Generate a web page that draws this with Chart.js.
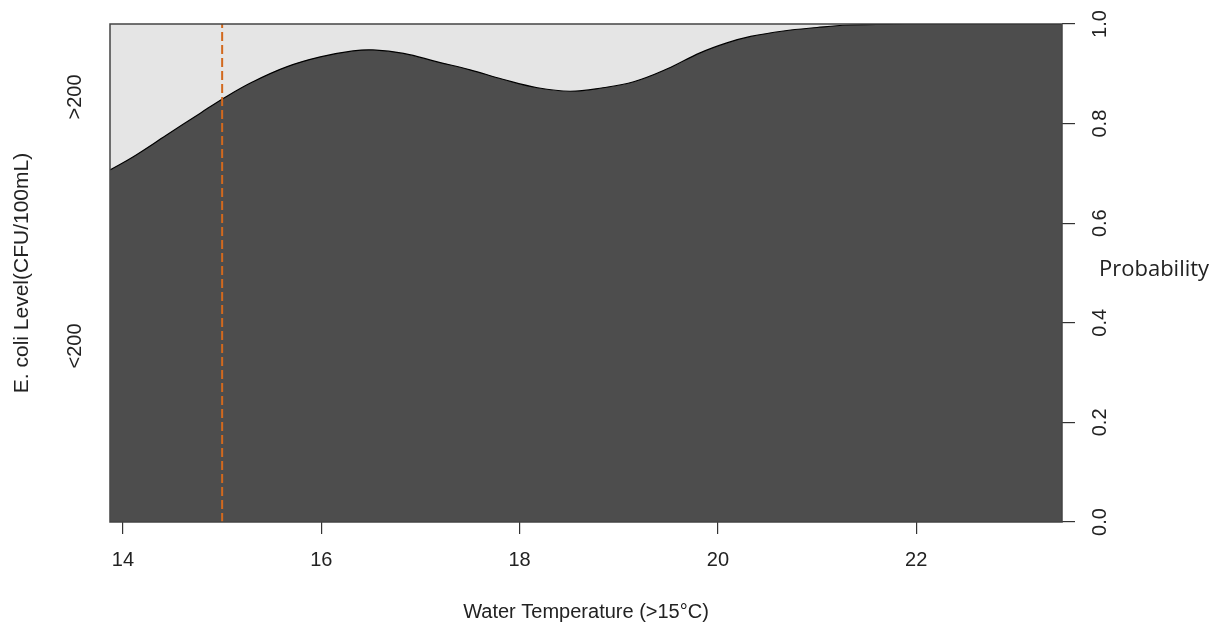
<!DOCTYPE html>
<html>
<head>
<meta charset="utf-8">
<script src="https://cdn.jsdelivr.net/npm/chart.js@4/dist/chart.umd.min.js"></script>
<style>
  html, body { margin: 0; padding: 0; background: #fff; }
  #wrap { width: 1232px; height: 628px; }
</style>
</head>
<body>
<div id="wrap"><canvas id="chart" width="1232" height="628"></canvas></div>
<script>
// conditional density of E. coli level vs water temperature
const temps = [13.87, 14.10, 14.44, 14.78, 15.04, 15.31, 15.65, 15.99, 16.32, 16.52,
  16.83, 17.17, 17.50, 17.83, 18.18, 18.51, 18.84, 19.15, 19.49, 19.82,
  20.09, 20.33, 20.66, 21.00, 21.31, 21.60, 21.89, 22.50, 23.00, 23.47]
// P(<200 CFU/100mL) at each temperature
const probLow = [0.707, 0.733, 0.777, 0.821, 0.854, 0.884, 0.914, 0.934, 0.946, 0.948,
  0.941, 0.924, 0.908, 0.889, 0.872, 0.865, 0.872, 0.884, 0.910, 0.942,
  0.962, 0.975, 0.986, 0.993, 0.998, 0.999, 1.0, 1.0, 1.0, 1.0]
const categories = ['<200', '>200']
const xTicks = [14, 16, 18, 20, 22]
const probTicks = [0, 0.2, 0.4, 0.6, 0.8, 1.0]
const xMin = 13.869
const xMax = 23.47
const threshold = 15

const lowCurve = temps.map((t, i) => ({ x: t, y: probLow[i] }))
// category labels sit in the middle of each band at the left edge
const catPos = [probLow[0] / 2, (probLow[0] + 1) / 2]

const tickFont = { family: '"Liberation Sans", Arial, sans-serif', size: 20 }

const frame = {
  id: 'frame',
  afterDraw(chart) {
    const { ctx, chartArea: a, scales } = chart
    ctx.save()
    ctx.strokeStyle = '#444'
    ctx.lineWidth = 1.5
    ctx.strokeRect(a.left, a.top, a.right - a.left, a.bottom - a.top)
    // right-hand axis caption
    const yr = scales.y
    ctx.fillStyle = '#222'
    ctx.font = '22px "Open Sans", sans-serif'
    ctx.textAlign = 'left'
    ctx.textBaseline = 'middle'
    ctx.fillText('Probability', a.right + 37, (yr.top + yr.bottom) / 2 - 3)
    ctx.restore()
  }
}

new Chart(document.getElementById('chart'), {
  type: 'line',
  data: {
    datasets: [
      {
        label: 'threshold',
        data: [{ x: threshold, y: 0 }, { x: threshold, y: 1 }],
        borderColor: '#d2691e',
        borderWidth: 2,
        borderDash: [9, 4],
        pointRadius: 0,
        fill: false,
        order: 0
      },
      {
        label: categories[0],
        data: lowCurve,
        borderColor: '#000',
        borderWidth: 1.2,
        backgroundColor: '#4d4d4d',
        pointRadius: 0,
        tension: 0.4,
        fill: 'origin',
        order: 1
      },
      {
        label: categories[1],
        data: lowCurve,
        borderWidth: 0,
        backgroundColor: '#e5e5e5',
        pointRadius: 0,
        tension: 0.4,
        fill: 'end',
        order: 2
      }
    ]
  },
  options: {
    responsive: false,
    animation: false,
    layout: { padding: { top: 24, left: 0, right: 0, bottom: 0 } },
    plugins: { legend: { display: false }, tooltip: { enabled: false } },
    scales: {
      x: {
        type: 'linear',
        min: xMin,
        max: xMax,
        afterBuildTicks: s => { s.ticks = xTicks.map(v => ({ value: v })) },
        afterFit: s => { s.height = 106 },
        grid: { drawOnChartArea: false, tickLength: 12, color: '#333', lineWidth: 1.2 },
        border: { display: false },
        ticks: { color: '#222', font: tickFont, padding: 14 },
        title: {
          display: true,
          text: 'Water Temperature (>15°C)',
          color: '#222',
          font: tickFont,
          padding: { top: 5, bottom: 4 }
        }
      },
      y: {
        type: 'linear',
        position: 'right',
        min: 0,
        max: 1,
        afterBuildTicks: s => { s.ticks = probTicks.map(v => ({ value: v })) },
        afterFit: s => { s.width = 170 },
        grid: { drawOnChartArea: false, tickLength: 13, color: '#333', lineWidth: 1.2 },
        border: { display: false },
        ticks: {
          color: '#222',
          font: tickFont,
          minRotation: 90,
          maxRotation: 90,
          crossAlign: 'center',
          padding: 12,
          callback: v => v.toFixed(1)
        }
      },
      yCat: {
        type: 'linear',
        position: 'left',
        min: 0,
        max: 1,
        afterBuildTicks: s => { s.ticks = catPos.map(v => ({ value: v })) },
        afterFit: s => { s.width = 110 },
        grid: { display: false, drawTicks: false },
        border: { display: false },
        ticks: {
          color: '#222',
          font: tickFont,
          minRotation: 90,
          maxRotation: 90,
          crossAlign: 'center',
          padding: 12,
          callback: (v, i) => categories[i]
        },
        title: {
          display: true,
          text: 'E. coli Level(CFU/100mL)',
          color: '#222',
          font: { family: '"Liberation Sans", Arial, sans-serif', size: 21 },
          padding: { top: 10, bottom: 0 }
        }
      }
    }
  },
  plugins: [frame]
})
</script>
</body>
</html>
